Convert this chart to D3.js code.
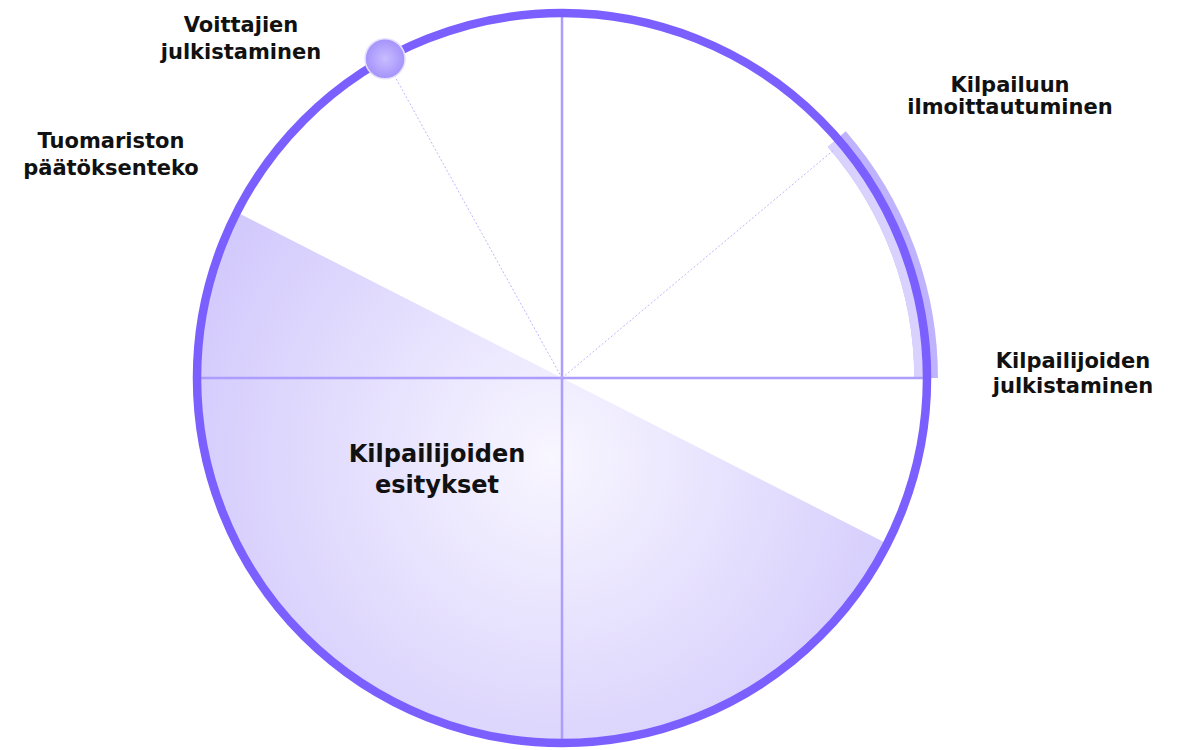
<!DOCTYPE html>
<html>
<head>
<meta charset="utf-8">
<script src="https://cdn.jsdelivr.net/npm/d3@7"></script>
<style>
  body { margin: 0; background: #fff; }
  text { font-family: "DejaVu Sans", sans-serif; font-weight: 700; fill: #111; }
</style>
</head>
<body>
<svg id="wheel"></svg>
<script>
// Phases of the competition, angles in degrees clockwise from 12 o'clock
const phaseLabels = [
  ["Kilpailuun", "ilmoittautuminen"],
  ["Kilpailijoiden", "julkistaminen"],
  ["Kilpailijoiden", "esitykset"],
  ["Tuomariston", "päätöksenteko"],
  ["Voittajien", "julkistaminen"]
];
const solidSpokes = [0, 90, 180, 270];
const dottedSpokes = [50, 331];
const shadedSector = [117, 297];
const highlightArc = [49, 90];
const markerAngle = 331;

const width = 1179, height = 750;
const cx = 562, cy = 378;
const R = 365;

const svg = d3.select("#wheel")
  .attr("width", width)
  .attr("height", height);

const angle = d3.scaleLinear().domain([0, 360]).range([0, 2 * Math.PI]);
const radius = d3.scaleLinear().domain([0, 1]).range([0, R]);

const defs = svg.append("defs");
// gradient coords are in the centered group's space
const grad = defs.append("radialGradient")
  .attr("id", "shade")
  .attr("gradientUnits", "userSpaceOnUse")
  .attr("cx", -10).attr("cy", 80).attr("r", 400);
grad.append("stop").attr("offset", "0%").attr("stop-color", "#f8f6ff");
grad.append("stop").attr("offset", "100%").attr("stop-color", "#d1c8fc");

const ball = defs.append("radialGradient").attr("id", "ball");
ball.append("stop").attr("offset", "0%").attr("stop-color", "#c8bdfe");
ball.append("stop").attr("offset", "100%").attr("stop-color", "#a593fb");

const g = svg.append("g").attr("transform", `translate(${cx},${cy})`);

// shaded half
g.append("path")
  .attr("d", d3.arc()({
    innerRadius: 0, outerRadius: radius(1),
    startAngle: angle(shadedSector[0]), endAngle: angle(shadedSector[1])
  }))
  .attr("fill", "url(#shade)");

// highlight arc (behind ring)
g.append("path")
  .attr("d", d3.arc()({
    innerRadius: radius(0.965), outerRadius: radius(1.03),
    startAngle: angle(highlightArc[0]), endAngle: angle(highlightArc[1])
  }))
  .attr("fill", "#c0b3fd");

g.append("path")
  .attr("d", d3.arc()({
    innerRadius: radius(0.965), outerRadius: radius(0.995),
    startAngle: angle(highlightArc[0]), endAngle: angle(highlightArc[1])
  }))
  .attr("fill", "#dad2fe");

const pt = (deg, r) => [Math.sin(angle(deg)) * r, -Math.cos(angle(deg)) * r];

// solid spokes
g.selectAll(".spoke")
  .data(solidSpokes)
  .enter().append("line")
  .attr("class", "spoke")
  .attr("x1", 0).attr("y1", 0)
  .attr("x2", d => pt(d, radius(1))[0])
  .attr("y2", d => pt(d, radius(1))[1])
  .attr("stroke", "#ad9dfc")
  .attr("stroke-width", 2.5);

// dotted spokes
g.selectAll(".dot")
  .data(dottedSpokes)
  .enter().append("line")
  .attr("class", "dot")
  .attr("x1", 0).attr("y1", 0)
  .attr("x2", d => pt(d, radius(0.975))[0])
  .attr("y2", d => pt(d, radius(0.975))[1])
  .attr("stroke", "#c2b6fd")
  .attr("stroke-width", 1)
  .attr("stroke-dasharray", "2,2");

// ring
g.append("circle")
  .attr("r", radius(1))
  .attr("fill", "none")
  .attr("stroke", "#7c5fff")
  .attr("stroke-width", 8.5);

// marker
g.append("circle")
  .attr("cx", pt(markerAngle, radius(1))[0])
  .attr("cy", pt(markerAngle, radius(1))[1])
  .attr("r", 20)
  .attr("fill", "url(#ball)")
  .attr("stroke", "#e6e0ff")
  .attr("stroke-width", 1.5);

// labels
const labelPos = [
  {x: 1010, y: 92, lh: 22, size: 21},
  {x: 1073, y: 368, lh: 25, size: 21},
  {x: 437, y: 462, lh: 31, size: 24},
  {x: 111, y: 148, lh: 27, size: 21},
  {x: 241, y: 32, lh: 27, size: 21}
];

phaseLabels.forEach((lines, i) => {
  const p = labelPos[i];
  const t = svg.append("text")
    .attr("text-anchor", "middle")
    .attr("x", p.x)
    .attr("y", p.y)
    .style("font-size", p.size + "px");
  lines.forEach((line, j) => {
    t.append("tspan")
      .attr("x", p.x)
      .attr("dy", j === 0 ? 0 : p.lh)
      .text(line);
  });
});
</script>
</body>
</html>
